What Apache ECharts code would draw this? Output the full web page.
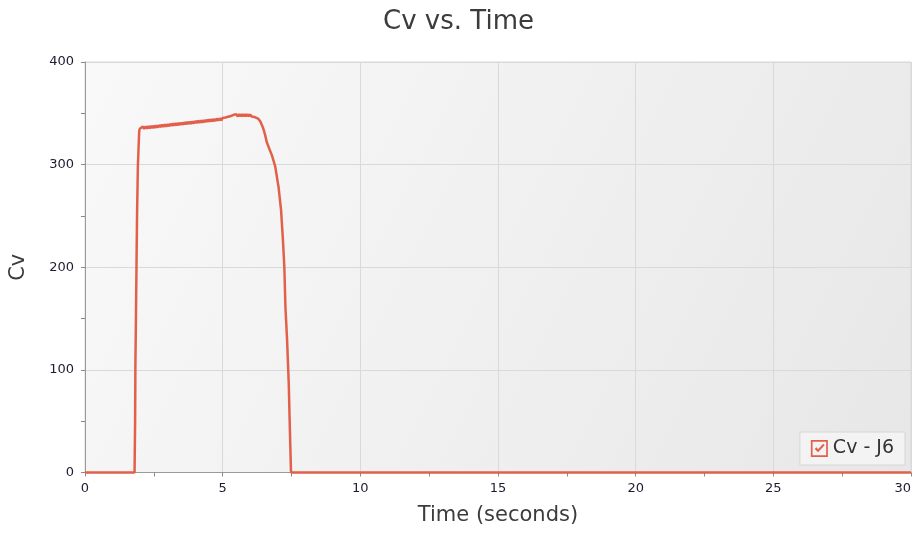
<!DOCTYPE html>
<html>
<head>
<meta charset="utf-8">
<script src="https://cdn.jsdelivr.net/npm/echarts@6/dist/echarts.min.js"></script>
<style>html,body{margin:0;padding:0;background:#fff}#c{width:917px;height:535px}</style>
</head>
<body>
<div id="c"></div>
<script>
var chartTitle = 'Cv vs. Time';
var xName = 'Time (seconds)';
var yName = 'Cv';
var seriesName = 'Cv - J6';

var timeSec = [0, 1.80, 1.81, 1.82, 1.83, 1.85, 1.87, 1.89, 1.92, 1.95, 1.97, 1.99,
  2.00, 2.05, 2.10, 2.15, 2.20, 2.25, 2.30, 2.35, 2.40, 2.45,
  2.50, 2.55, 2.60, 2.65, 2.70, 2.75, 2.80, 2.85, 2.90, 2.95,
  3.00, 3.05, 3.10, 3.15, 3.20, 3.25, 3.30, 3.35, 3.40, 3.45,
  3.50, 3.55, 3.60, 3.65, 3.70, 3.75, 3.80, 3.85, 3.90, 3.95,
  4.00, 4.05, 4.10, 4.15, 4.20, 4.25, 4.30, 4.35, 4.40, 4.45,
  4.50, 4.55, 4.60, 4.65, 4.70, 4.75, 4.80, 4.85, 4.90, 4.95,
  5.00, 5.05, 5.10, 5.15, 5.20, 5.25, 5.30, 5.35, 5.40, 5.45,
  5.50, 5.55, 5.60, 5.65, 5.70, 5.75, 5.80, 5.85, 5.90, 5.95,
  6.00, 6.05, 6.10, 6.15, 6.20,
  6.30, 6.37, 6.45, 6.50, 6.55, 6.60, 6.70, 6.79, 6.91,
  7.03, 7.12, 7.19, 7.24, 7.28, 7.34, 7.40, 7.43, 7.48, 7.49, 30];
var cvValues = [0, 0, 0, 50, 103, 150, 200, 250, 298, 320, 333, 335,
  336.5, 334.5, 337, 334.8, 337.2, 335, 337.5, 335.3, 337.8, 335.6,
  338, 335.9, 338.3, 336.2, 338.6, 336.5, 338.9, 336.8, 339.2, 337.1,
  339.5, 337.4, 339.8, 337.7, 340.1, 338, 340.4, 338.3, 340.7, 338.6,
  341, 338.9, 341.3, 339.2, 341.6, 339.5, 341.9, 339.8, 342.2, 340.1,
  342.5, 340.4, 342.8, 340.7, 343.1, 341, 343.4, 341.3, 343.7, 341.6,
  344, 341.9, 344.3, 342.2, 344.6, 342.5, 344.9, 342.8, 345.2, 343.1,
  345.5, 343.6, 346, 344.3, 346.7, 345, 347.4, 345.8, 348.5, 346.6,
  349, 346.9, 349.2, 347, 349.3, 347, 349.3, 347, 349.2, 347,
  349, 346.9, 348.5, 346.5, 346.5,
  344.5, 342, 337, 333, 328, 322, 315, 309, 298,
  278, 256, 226, 200, 161, 129, 87, 54, 2, 0, 0];

var xTicks = [0, 5, 10, 15, 20, 25, 30];
var yTicks = [0, 100, 200, 300, 400];

var pts = timeSec.map(function (t, i) { return [t, cvValues[i]]; });

var FONT = 'DejaVu Sans';
var lineColor = '#e2604b';
var checkIcon = 'path://M0 0H20V20H0Z M2 2V18H18V2Z M4.5 10.5L6.5 8.5L8.5 10.8L14.5 4.5L16.2 6.3L8.5 14.5Z';

var chart = echarts.init(document.getElementById('c'), null, {renderer: 'canvas'});
chart.setOption({
  backgroundColor: '#ffffff',
  animation: false,
  title: {
    text: chartTitle,
    left: 'center',
    top: 4,
    textStyle: {fontFamily: FONT, fontSize: 26, fontWeight: 'normal', color: '#3c3c3c'}
  },
  legend: {
    right: 12,
    bottom: 70,
    data: [{name: seriesName, icon: checkIcon}],
    itemWidth: 17,
    itemHeight: 17,
    itemGap: 6,
    padding: [7, 11],
    backgroundColor: '#f3f3f3',
    borderColor: '#d6d6d6',
    borderWidth: 1,
    selectedMode: false,
    textStyle: {fontFamily: FONT, fontSize: 19, color: '#333333'}
  },
  grid: {
    left: 84.5,
    right: 6,
    top: 62,
    bottom: 62.5,
    show: true,
    borderColor: '#d9d9d9',
    borderWidth: 1,
    backgroundColor: new echarts.graphic.LinearGradient(0, 0, 1, 1, [
      {offset: 0, color: '#f9f9f9'},
      {offset: 1, color: '#e7e7e7'}
    ])
  },
  xAxis: {
    type: 'value',
    min: xTicks[0],
    max: xTicks[xTicks.length - 1],
    interval: xTicks[1] - xTicks[0],
    name: xName,
    nameLocation: 'middle',
    nameGap: 33,
    nameTextStyle: {fontFamily: FONT, fontSize: 21, color: '#3c3c3c'},
    axisLine: {show: true, lineStyle: {color: '#9a9a9a', width: 1}},
    axisTick: {show: true, length: 4, lineStyle: {color: '#8a8a8a'}},
    minorTick: {show: true, splitNumber: 2, length: 4, lineStyle: {color: '#8a8a8a'}},
    splitLine: {show: true, lineStyle: {color: '#d9d9d9', width: 1}},
    axisLabel: {fontFamily: FONT, fontSize: 13, color: '#1c1c30', margin: 10, alignMaxLabel: 'right'}
  },
  yAxis: {
    type: 'value',
    min: yTicks[0],
    max: yTicks[yTicks.length - 1],
    interval: yTicks[1] - yTicks[0],
    name: yName,
    nameLocation: 'middle',
    nameGap: 56,
    nameTextStyle: {fontFamily: FONT, fontSize: 21, color: '#3c3c3c'},
    axisLine: {show: true, lineStyle: {color: '#9a9a9a', width: 1}},
    axisTick: {show: true, length: 4, lineStyle: {color: '#8a8a8a'}},
    minorTick: {show: true, splitNumber: 2, length: 4, lineStyle: {color: '#8a8a8a'}},
    splitLine: {show: true, lineStyle: {color: '#d9d9d9', width: 1}},
    axisLabel: {fontFamily: FONT, fontSize: 13, color: '#1c1c30', margin: 11}
  },
  series: [{
    name: seriesName,
    type: 'line',
    data: pts,
    showSymbol: false,
    symbol: 'none',
    clip: false,
    color: lineColor,
    lineStyle: {color: lineColor, width: 2.5},
    itemStyle: {color: lineColor}
  }]
});
</script>
</body>
</html>
